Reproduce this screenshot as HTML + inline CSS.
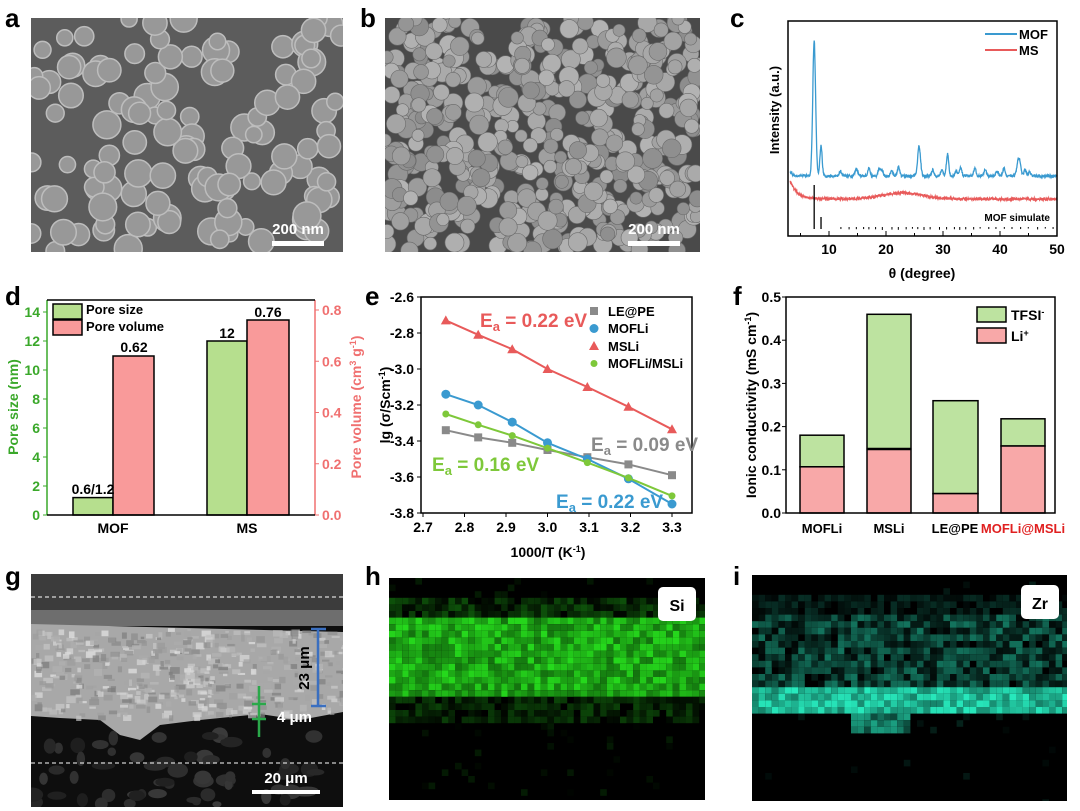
<!DOCTYPE html>
<html><head><meta charset="utf-8"><style>
html,body{margin:0;padding:0;background:#fff;width:1080px;height:811px;overflow:hidden}
svg{display:block;font-family:"Liberation Sans",Arial,sans-serif;font-weight:bold}
</style></head><body>
<svg id="s" width="1080" height="811" viewBox="0 0 1080 811" xmlns="http://www.w3.org/2000/svg">
<defs>
<clipPath id="ca"><rect x="31" y="18" width="312" height="234"/></clipPath>
<clipPath id="cb"><rect x="385" y="18" width="315" height="234"/></clipPath>
<clipPath id="cg"><rect x="31" y="574" width="312" height="233"/></clipPath>
<clipPath id="ch"><rect x="389" y="578" width="316" height="222"/></clipPath>
<clipPath id="ci"><rect x="752" y="575" width="315" height="226"/></clipPath>
</defs>
<rect x="31" y="18" width="312" height="234" fill="#5c5c5c"/>
<g id="ga" clip-path="url(#ca)"></g>
<rect x="385" y="18" width="315" height="234" fill="#4a4a4a"/>
<g id="gb" clip-path="url(#cb)"></g>
<rect x="272" y="241" width="52" height="5" fill="#fff"/>
<text x="298" y="234" font-size="15" fill="#fff" text-anchor="middle">200 nm</text>
<rect x="628" y="241" width="52" height="5" fill="#fff"/>
<text x="654" y="234" font-size="15" fill="#fff" text-anchor="middle">200 nm</text>
<g font-size="26"><text x="5" y="27">a</text><text x="360" y="27">b</text><text x="730" y="27">c</text>
<text x="5" y="305">d</text><text x="365" y="305">e</text><text x="733" y="305">f</text>
<text x="5" y="585">g</text><text x="365" y="585">h</text><text x="733" y="585">i</text></g>

<!-- panel c -->
<g id="gc"></g>
<rect x="788" y="21" width="269" height="215" fill="none" stroke="#000" stroke-width="1.5"/>
<g font-size="14" text-anchor="middle"><text x="829" y="254">10</text><text x="886" y="254">20</text><text x="943" y="254">30</text><text x="1000" y="254">40</text><text x="1057" y="254">50</text></g>
<text x="922" y="278" font-size="14" text-anchor="middle">θ (degree)</text>
<text transform="translate(779,110) rotate(-90)" font-size="13" text-anchor="middle">Intensity (a.u.)</text>
<line x1="985" y1="34" x2="1017" y2="34" stroke="#3a9ad0" stroke-width="2"/>
<line x1="985" y1="50" x2="1017" y2="50" stroke="#e85a5a" stroke-width="2"/>
<text x="1019" y="39" font-size="13">MOF</text><text x="1019" y="55" font-size="13">MS</text>
<text x="1050" y="221" font-size="10" text-anchor="end">MOF simulate</text>

<!-- panel d -->
<g stroke="#000" stroke-width="1.5">
<rect x="73" y="497.6" width="40" height="17.4" fill="#b6df8e"/>
<rect x="113" y="356" width="41" height="159" fill="#f99a9a"/>
<rect x="207" y="341" width="40" height="174" fill="#b6df8e"/>
<rect x="247" y="320" width="42" height="195" fill="#f99a9a"/>
<rect x="53" y="304" width="29" height="15" fill="#b6df8e"/>
<rect x="53" y="320" width="29" height="15" fill="#f99a9a"/>
</g>
<line x1="47" y1="300" x2="47" y2="515" stroke="#3aa82a" stroke-width="1.5"/>
<line x1="315" y1="300" x2="315" y2="515" stroke="#f07070" stroke-width="1.5"/>
<line x1="47" y1="515" x2="315" y2="515" stroke="#000" stroke-width="1.5"/>
<line x1="47" y1="300" x2="315" y2="300" stroke="#000" stroke-width="1.5"/>
<g id="gd"></g>
<text x="86" y="314" font-size="13">Pore size</text><text x="86" y="331" font-size="13">Pore volume</text>
<g font-size="14" text-anchor="middle"><text x="93" y="494">0.6/1.2</text><text x="134" y="352">0.62</text><text x="227" y="338">12</text><text x="268" y="317">0.76</text>
<text x="113" y="533">MOF</text><text x="247" y="533">MS</text></g>
<text transform="translate(18,407) rotate(-90)" font-size="14" fill="#3aa82a" text-anchor="middle">Pore size (nm)</text>
<text transform="translate(361,407) rotate(-90)" font-size="14" fill="#f07070" text-anchor="middle">Pore volume (cm<tspan font-size="9" dy="-5">3</tspan><tspan dy="5"> g</tspan><tspan font-size="9" dy="-5">-1</tspan><tspan dy="5">)</tspan></text>

<!-- panel e -->
<rect x="421" y="297" width="271" height="216" fill="none" stroke="#000" stroke-width="1.5"/>
<g id="ge"></g>
<text transform="translate(390,405) rotate(-90)" font-size="14" text-anchor="middle">lg (σ/Scm<tspan font-size="9" dy="-5">-1</tspan><tspan dy="5">)</tspan></text>
<text x="548" y="557" font-size="14" text-anchor="middle">1000/T (K<tspan font-size="9" dy="-5">-1</tspan><tspan dy="5">)</tspan></text>
<g font-size="19"><text x="480" y="327" fill="#e85a5a">E<tspan font-size="13" dy="4">a</tspan><tspan dy="-4"> = 0.22 eV</tspan></text>
<text x="432" y="471" fill="#7ec83a">E<tspan font-size="13" dy="4">a</tspan><tspan dy="-4"> = 0.16 eV</tspan></text>
<text x="591" y="451" fill="#8a8a8a">E<tspan font-size="13" dy="4">a</tspan><tspan dy="-4"> = 0.09 eV</tspan></text>
<text x="556" y="508" fill="#3a9ad0">E<tspan font-size="13" dy="4">a</tspan><tspan dy="-4"> = 0.22 eV</tspan></text></g>
<g font-size="13"><text x="608" y="316">LE@PE</text><text x="608" y="333">MOFLi</text><text x="608" y="351">MSLi</text><text x="608" y="368">MOFLi/MSLi</text></g>

<!-- panel f -->
<g stroke="#000" stroke-width="1.5">
<rect x="800" y="435.2" width="44" height="31.6" fill="#bde3a0"/>
<rect x="800" y="466.8" width="44" height="46.2" fill="#f8a8a8"/>
<rect x="867" y="314.3" width="44" height="134.2" fill="#bde3a0"/>
<rect x="867" y="449.5" width="44" height="63.5" fill="#f8a8a8"/>
<rect x="933" y="400.7" width="45" height="92.9" fill="#bde3a0"/>
<rect x="933" y="493.6" width="45" height="19.4" fill="#f8a8a8"/>
<rect x="1001" y="418.8" width="44" height="27.2" fill="#bde3a0"/>
<rect x="1001" y="446" width="44" height="67" fill="#f8a8a8"/>
<rect x="977" y="307" width="29" height="15" fill="#bde3a0"/>
<rect x="977" y="328" width="29" height="15" fill="#f8a8a8"/>
</g>
<rect x="786" y="297" width="269" height="216" fill="none" stroke="#000" stroke-width="1.5"/>
<g id="gf"></g>
<text x="1011" y="320" font-size="14">TFSI<tspan font-size="9" dy="-5">-</tspan></text>
<text x="1011" y="341" font-size="14">Li<tspan font-size="9" dy="-5">+</tspan></text>
<g font-size="13" text-anchor="middle"><text x="822" y="533">MOFLi</text><text x="889" y="533">MSLi</text><text x="955" y="533">LE@PE</text><text x="1023" y="533" fill="#e02020">MOFLi@MSLi</text></g>
<text transform="translate(756,405) rotate(-90)" font-size="14" text-anchor="middle">Ionic conductivity (mS cm<tspan font-size="9" dy="-5">-1</tspan><tspan dy="5">)</tspan></text>

<!-- panel g -->
<rect x="31" y="574" width="312" height="233" fill="#0e0e0e"/>
<g clip-path="url(#cg)" id="gg">
<rect x="31" y="574" width="312" height="38" fill="#3c3c3c"/>
<rect x="31" y="610" width="312" height="16" fill="#6e6e6e"/>
<path d="M31 624 L343 632 L343 712 L300 720 L260 714 L200 720 L160 725 L140 740 L120 735 L100 720 L60 718 L31 716 Z" fill="#a8a8a8"/>
</g>
<line x1="31" y1="597" x2="343" y2="597" stroke="#fff" stroke-dasharray="4,3"/>
<line x1="31" y1="763" x2="343" y2="763" stroke="#fff" stroke-dasharray="4,3"/>
<g stroke="#3a6fc0" stroke-width="2.5"><line x1="318" y1="630" x2="318" y2="705"/><line x1="311" y1="629" x2="326" y2="629"/><line x1="311" y1="706" x2="326" y2="706"/></g>
<text transform="translate(309,668) rotate(-90)" font-size="15" fill="#000" text-anchor="middle">23 μm</text>
<g stroke="#2aa84a" stroke-width="2.5"><line x1="259" y1="686" x2="259" y2="737"/><line x1="252" y1="704" x2="266" y2="704"/><line x1="252" y1="719" x2="266" y2="719"/></g>
<text x="277" y="722" font-size="15" fill="#fff">4 μm</text>
<rect x="252" y="790" width="68" height="4" fill="#fff"/>
<text x="286" y="783" font-size="15" fill="#fff" text-anchor="middle">20 μm</text>

<!-- h, i -->
<rect x="389" y="578" width="316" height="222" fill="#000"/>
<g id="gh" clip-path="url(#ch)"></g>
<rect x="752" y="575" width="315" height="226" fill="#000"/>
<g id="gi" clip-path="url(#ci)"></g>
<rect x="658" y="587" width="38" height="34" rx="5" fill="#fff"/>
<text x="677" y="611" font-size="16" text-anchor="middle">Si</text>
<rect x="1021" y="585" width="38" height="34" rx="5" fill="#fff"/>
<text x="1040" y="609" font-size="16" text-anchor="middle">Zr</text>
</svg>
<script>
var NS="http://www.w3.org/2000/svg";
var seed=7;function R(){seed=(seed*16807)%2147483647;return seed/2147483647;}
function el(p,t,a){var e=document.createElementNS(NS,t);for(var k in a)e.setAttribute(k,a[k]);document.getElementById(p).appendChild(e);return e;}
// SEM a
for(var i=0;i<120;i++){var x=31+R()*312,y=18+R()*234,r=8+R()*6;
 el("ga","circle",{cx:x,cy:y,r:r,fill:"#989898",stroke:"#bdbdbd","stroke-width":1.5});}
// SEM b
for(var i=0;i<520;i++){var x=385+R()*315,y=18+R()*234,r=6+R()*4;var g=140+R()*40|0;
 el("gb","circle",{cx:x,cy:y,r:r,fill:"rgb("+g+","+g+","+g+")",stroke:"#6a6a6a","stroke-width":0.6});}
// XRD
function X(t){return 829+(t-10)*5.7;}
var pk=[[7.4,135,0.25],[8.6,30,0.2],[12,5,.2],[14.8,7,.25],[17,8,.2],[18.8,7,.2],[19.3,6,.2],[21,5,.2],[22.2,9,.2],[25.8,30,.25],[28.2,6,.2],[29.8,6,.2],[30.8,22,.2],[32.3,5,.2],[33.1,9,.2],[35.6,8,.2],[37.4,7,.2],[39.5,5,.2],[40.7,8,.2],[43.3,18,.3],[44.4,6,.2],[45.2,4,.2]];
var d1="",d2="";
for(var t=3.2;t<=50;t+=0.05){var v=0;for(var k=0;k<pk.length;k++){var q=(t-pk[k][0])/pk[k][2];v+=pk[k][1]*Math.exp(-q*q/2);}
 var y=176-v+(R()-0.5)*2.5+(t<4?-5*(4-t):0);d1+=(d1?"L":"M")+X(t).toFixed(1)+" "+y.toFixed(1);
 var h=199-6*Math.exp(-Math.pow((t-23)/5,2))-18*Math.exp(-(t-3.2)/1.2)+(R()-0.5)*2.5;d2+=(d2?"L":"M")+X(t).toFixed(1)+" "+h.toFixed(1);}
el("gc","path",{d:d1,fill:"none",stroke:"#3a9ad0","stroke-width":1.3});
el("gc","path",{d:d2,fill:"none",stroke:"#e85a5a","stroke-width":1.3});
el("gc","line",{x1:X(7.4),y1:185,x2:X(7.4),y2:229,stroke:"#000","stroke-width":1.3});
el("gc","line",{x1:X(8.6),y1:217,x2:X(8.6),y2:229,stroke:"#000","stroke-width":1.3});
for(var t=12;t<50;t+=0.9+R()*0.8)el("gc","rect",{x:X(t),y:227,width:1,height:1.5+R()*1.5,fill:"#000"});
for(var t=5;t<=50;t+=5)el("gc","line",{x1:X(t),y1:236,x2:X(t),y2:t%10?233:231,stroke:"#000"});
// d ticks
for(var v=0;v<=14;v+=2){var y=515-v*14.5;el("gd","line",{x1:47,y1:y,x2:43,y2:y,stroke:"#3aa82a"});var tx=el("gd","text",{x:40,y:y+5,"font-size":14,fill:"#3aa82a","text-anchor":"end"});tx.textContent=v;}
for(var v=0;v<=0.81;v+=0.2){var y=515-v*256.25;el("gd","line",{x1:315,y1:y,x2:319,y2:y,stroke:"#f07070"});var tx=el("gd","text",{x:322,y:y+5,"font-size":14,fill:"#f07070"});tx.textContent=v.toFixed(1);}
// e
function EX(x){return 423+(x-2.7)*415;}function EY(y){return 297+(-2.6-y)*180;}
for(var v=2.7;v<=3.31;v+=0.1){el("ge","line",{x1:EX(v),y1:513,x2:EX(v),y2:517,stroke:"#000"});var tx=el("ge","text",{x:EX(v),y:532,"font-size":14,"text-anchor":"middle"});tx.textContent=v.toFixed(1);}
for(var v=-2.6;v>=-3.81;v-=0.2){el("ge","line",{x1:421,y1:EY(v),x2:417,y2:EY(v),stroke:"#000"});var tx=el("ge","text",{x:414,y:EY(v)+5,"font-size":14,"text-anchor":"end"});tx.textContent=v.toFixed(1);}
var xs=[2.755,2.833,2.915,3.0,3.096,3.195,3.3];
var S=[["#8a8a8a","sq",[-3.34,-3.38,-3.41,-3.45,-3.49,-3.53,-3.59]],["#3a9ad0","c",[-3.14,-3.2,-3.295,-3.41,-3.5,-3.61,-3.75]],["#e85a5a","t",[-2.73,-2.81,-2.89,-3.0,-3.1,-3.21,-3.335]],["#7ec83a","s",[-3.25,-3.31,-3.37,-3.44,-3.52,-3.605,-3.705]]];
S.forEach(function(s,j){var p="";s[2].forEach(function(v,i){p+=(i?"L":"M")+EX(xs[i])+" "+EY(v);});
 el("ge","path",{d:p,fill:"none",stroke:s[0],"stroke-width":2});
 function mk(x,y){if(s[1]=="sq")el("ge","rect",{x:x-4,y:y-4,width:8,height:8,fill:s[0]});else if(s[1]=="c")el("ge","circle",{cx:x,cy:y,r:4.5,fill:s[0]});else if(s[1]=="t")el("ge","path",{d:"M"+x+" "+(y-5)+"L"+(x+5)+" "+(y+4)+"L"+(x-5)+" "+(y+4)+"Z",fill:s[0]});else el("ge","circle",{cx:x,cy:y,r:3.5,fill:s[0]});}
 s[2].forEach(function(v,i){mk(EX(xs[i]),EY(v));});mk(594,311+j*17.5);});
// f ticks
for(var v=0;v<=0.51;v+=0.1){var y=513-v*432;el("gf","line",{x1:786,y1:y,x2:782,y2:y,stroke:"#000"});var tx=el("gf","text",{x:781,y:y+5,"font-size":14,"text-anchor":"end"});tx.textContent=v.toFixed(1);}
// g texture
for(var i=0;i<500;i++){var x=31+R()*312,y=628+R()*88;var g=120+R()*110|0;el("gg","rect",{x:x,y:y,width:3+R()*7,height:2+R()*5,fill:"rgb("+g+","+g+","+g+")","fill-opacity":0.7});}
for(var i=0;i<60;i++){var x=31+R()*312,y=735+R()*70;var g=30+R()*30|0;el("gg","ellipse",{cx:x,cy:y,rx:4+R()*8,ry:3+R()*5,fill:"rgb("+g+","+g+","+g+")"});}
// h map
var ps=6.6;
for(var yy=578;yy<800;yy+=ps)for(var xx=389;xx<705;xx+=ps){var c=yy+ps/2;var b;
 if(c>620&&c<700)b=0.5+R()*0.45;else if(c>598&&c<=620)b=R()*0.35;else if(c>=700&&c<722)b=R()*0.3;else b=R()<0.08?R()*0.12:0;
 if(b>0.02)el("gh","rect",{x:xx,y:yy,width:ps,height:ps,fill:"rgb("+(b*40|0)+","+(b*230|0)+","+(b*30|0)+")"});}
for(var yy=575;yy<801;yy+=ps)for(var xx=752;xx<1067;xx+=ps){var c=yy+ps/2;var b;
 if(c>690&&c<712)b=0.55+R()*0.45;else if(c>=712&&c<735&&xx>850&&xx<910)b=0.3+R()*0.4;else if(c>612&&c<=690)b=R()*0.5;else if(c>597&&c<=612)b=R()*0.2;else b=R()<0.03?R()*0.15:0;
 if(b>0.03)el("gi","rect",{x:xx,y:yy,width:ps,height:ps,fill:"rgb("+(b*40|0)+","+(b*235|0)+","+(b*190|0)+")"});}
</script>
</body></html>
